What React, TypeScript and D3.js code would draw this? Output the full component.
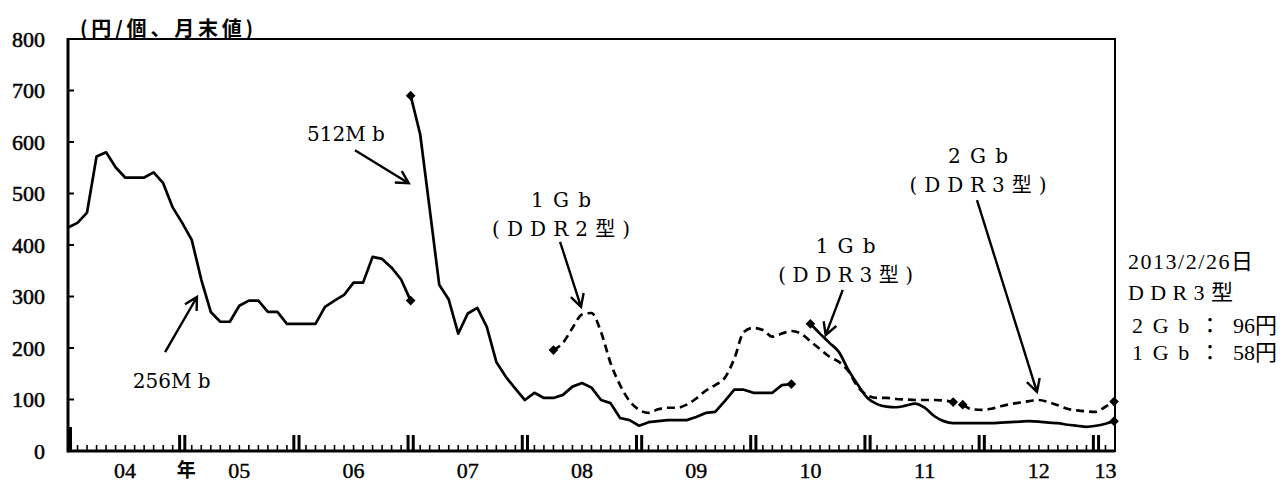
import React from 'react';
import * as d3 from 'd3';

// month index: 0 = end of Dec 2003, one step per month, 110 = end of Feb 2013
const lastMonth = 110;
const spotIdx = 109.9; // 2013/2/26

const yTicks = [0, 100, 200, 300, 400, 500, 600, 700, 800];
const yearLabels = ['04', '05', '06', '07', '08', '09', '10', '11', '12', '13'];
const yearUnit = '年';
const unitLabel = '(円/個、月末値)';

// DRAM spot prices (yen per chip, month-end)
const mb256Start = 0;
const mb256 = [434, 443, 463, 572, 580, 551, 531, 531, 531, 541, 520, 473, 443, 410, 333, 270, 251, 251,
  282, 292, 292, 270, 270, 247, 247, 247, 247, 280, 292, 303, 327, 327, 377, 373, 356, 333, 292];

const mb512Start = 36;
const mb512 = [690, 615, 470, 323, 294, 228, 267, 278, 241, 173, 144, 121, 99, 113, 103, 103, 109, 125,
  132, 123, 99, 93, 64, 60, 49, 56, 58, 60, 60, 60, 66, 74, 76, 97, 119, 119, 113, 113, 113, 128, 130];

const gb1Ddr2Start = 51;
const gb1Ddr2 = [196, 210, 239, 265, 268, 231, 171, 128, 97, 80, 74, 81, 84, 84, 90, 102, 117, 128, 142,
  179, 231, 239, 235, 222, 228, 233, 228, 213, 198, 183, 173, 155, 124, 108, 103, 103, 101, 100, 99, 99,
  99, 98, 95];

const gb1Ddr3Start = 78;
const gb1Ddr3 = [247, 228, 210, 192, 157, 128, 103, 91, 86, 85, 88, 92, 84, 68, 58, 54, 54, 54, 54, 54,
  55, 56, 57, 58, 57, 55, 54, 51, 49, 47, 49, 53];
const gb1Ddr3Spot = 58;

const gb2Ddr3Start = 94;
const gb2Ddr3 = [90, 81, 80, 82, 87, 91, 94, 97, 99, 95, 89, 82, 79, 77, 76, 86];
const gb2Ddr3Spot = 96;

const spotLines = ['2013/2/26日', 'DDR3型'];
const spotRows = [['2Gb：', '96円'], ['1Gb：', '58円']];

type Pt = [number, number];
type Series = { pts: Pt[]; dashed: boolean; smooth: boolean; markStart: boolean };

const build = (start: number, vals: number[], spot?: number): Pt[] => {
  const p: Pt[] = vals.map((v, k) => [start + k, v]);
  if (spot !== undefined) p.push([spotIdx, spot]);
  return p;
};

const series: Series[] = [
  { pts: build(mb256Start, mb256), dashed: false, smooth: false, markStart: false },
  { pts: build(mb512Start, mb512), dashed: false, smooth: false, markStart: true },
  { pts: build(gb1Ddr2Start, gb1Ddr2), dashed: true, smooth: true, markStart: true },
  { pts: build(gb1Ddr3Start, gb1Ddr3, gb1Ddr3Spot), dashed: false, smooth: true, markStart: true },
  { pts: build(gb2Ddr3Start, gb2Ddr3, gb2Ddr3Spot), dashed: true, smooth: true, markStart: true },
];

// callouts, anchored in data space: [month index, yen]
const callouts = [
  { lines: ['256M b'], fit: [0], at: [10.9, 136] as Pt, tail: [10.2, 192] as Pt, tip: [13.55, 299] as Pt },
  { lines: ['512M b'], fit: [0], at: [29.2, 616] as Pt, tail: [30.15, 584] as Pt, tip: [35.8, 520] as Pt },
  { lines: ['1Gb', '(DDR2型)'], fit: [60, 138], at: [51.8, 487] as Pt, tail: [51.7, 406] as Pt, tip: [53.9, 280] as Pt },
  { lines: ['1Gb', '(DDR3型)'], fit: [60, 135], at: [81.7, 398] as Pt, tail: [81.4, 313] as Pt, tip: [79.6, 225] as Pt },
  { lines: ['2Gb', '(DDR3型)'], fit: [60, 137], at: [95.6, 573] as Pt, tail: [95.5, 487] as Pt, tip: [101.8, 115] as Pt },
];

const W = 1283;
const H = 492;
const left = 68, right = 1115, top = 39, bottom = 451;

const serif = '"Liberation Serif", "Noto Sans CJK JP", serif';
const wide = '"DejaVu Serif", "Noto Sans CJK JP", serif';
const gothic = '"Noto Sans CJK JP", sans-serif';

export default function App() {
  const x = d3.scaleLinear().domain([0, lastMonth]).range([left, right]);
  const y = d3.scaleLinear().domain([0, 800]).range([bottom, top]);

  const lineLin = d3.line<Pt>().x(d => x(d[0])).y(d => y(d[1]));
  const lineSmooth = d3.line<Pt>().x(d => x(d[0])).y(d => y(d[1])).curve(d3.curveMonotoneX);
  const diamond = d3.symbol().type(d3.symbolDiamond2).size(60)();

  const months = d3.range(1, lastMonth).filter(m => m % 12 !== 0);
  const yearEnds = d3.range(12, lastMonth, 12);

  const arrow = (t: Pt, h: Pt) => {
    const x1 = x(t[0]), y1 = y(t[1]), x2 = x(h[0]), y2 = y(h[1]);
    const a = Math.atan2(y2 - y1, x2 - x1);
    const L = 14, s = 0.5;
    const b1 = [x2 - L * Math.cos(a - s), y2 - L * Math.sin(a - s)];
    const b2 = [x2 - L * Math.cos(a + s), y2 - L * Math.sin(a + s)];
    return `M${x1},${y1}L${x2},${y2}M${b1[0]},${b1[1]}L${x2},${y2}L${b2[0]},${b2[1]}`;
  };

  const yearPos = (k: number) => x((12 * k + Math.min(12 * k + 12, lastMonth)) / 2);

  return (
    <svg width={W} height={H} style={{ position: 'absolute', left: 0, top: 0, background: '#fff' }}>
      {/* frame */}
      <rect x={left} y={top} width={right - left} height={bottom - top} fill="none" stroke="#000" strokeWidth={2} />
      <line x1={left} x2={left} y1={top - 1} y2={bottom + 1.5} stroke="#000" strokeWidth={3} />
      <line x1={left} x2={right} y1={bottom} y2={bottom} stroke="#000" strokeWidth={3} />

      {/* y ticks */}
      {yTicks.map(t => (
        <g key={t}>
          {t > 0 && t < 800 && <line x1={left} x2={left + 6} y1={y(t)} y2={y(t)} stroke="#000" strokeWidth={2} />}
          <text x={45} y={y(t)} dy="0.35em" textAnchor="end" fontFamily={serif} fontSize={22}
            stroke="#000" strokeWidth={0.5}>{t}</text>
        </g>
      ))}

      {/* month ticks */}
      {months.map(m => (
        <line key={m} x1={x(m)} x2={x(m)} y1={bottom} y2={bottom - 6} stroke="#000" strokeWidth={1.6} />
      ))}
      {yearEnds.map(m => (
        <g key={m}>
          <line x1={x(m) - 2.6} x2={x(m) - 2.6} y1={bottom} y2={bottom - 16} stroke="#000" strokeWidth={3} />
          <line x1={x(m) + 2.6} x2={x(m) + 2.6} y1={bottom} y2={bottom - 16} stroke="#000" strokeWidth={3} />
        </g>
      ))}
      <rect x={left} y={bottom - 24} width={4} height={24} fill="#000" />

      {/* year labels */}
      {yearLabels.map((l, k) => (
        <text key={l} x={yearPos(k)} y={478} textAnchor="middle" fontFamily={serif} fontSize={22}
          stroke="#000" strokeWidth={0.4}>{l}</text>
      ))}
      <text x={x(12) + 4} y={477} textAnchor="middle" fontFamily={gothic} fontSize={19} fontWeight={700}>{yearUnit}</text>

      <text x={80} y={36} fontFamily={gothic} fontSize={20} fontWeight={700} textLength={173} lengthAdjust="spacing">{unitLabel}</text>

      {/* series */}
      {series.map((s, k) => (
        <g key={k}>
          <path d={(s.smooth ? lineSmooth : lineLin)(s.pts) ?? ''} fill="none" stroke="#000" strokeWidth={2.7}
            strokeDasharray={s.dashed ? '8,5' : undefined} strokeLinejoin="round" />
          {(s.markStart ? [s.pts[0], s.pts[s.pts.length - 1]] : [s.pts[s.pts.length - 1]]).map((p, j) => (
            <path key={j} d={diamond ?? ''} transform={`translate(${x(p[0])},${y(p[1])})`} fill="#000" />
          ))}
        </g>
      ))}

      {/* callouts */}
      {callouts.map((c, k) => (
        <g key={k}>
          <path d={arrow(c.tail, c.tip)} fill="none" stroke="#000" strokeWidth={2.4} />
          {c.lines.map((l, j) => (
            <text key={j} x={x(c.at[0])} y={y(c.at[1]) + j * 29} dy="0.36em" textAnchor="middle" fontFamily={wide}
              fontSize={20} textLength={c.fit[j] || undefined} lengthAdjust={c.fit[j] ? 'spacing' : undefined}>{l}</text>
          ))}
        </g>
      ))}

      {/* spot note */}
      <text x={1128} y={269} fontFamily={serif} fontSize={22} textLength={125} lengthAdjust="spacing">{spotLines[0]}</text>
      <text x={1128} y={300} fontFamily={serif} fontSize={22} textLength={105} lengthAdjust="spacing">{spotLines[1]}</text>
      {spotRows.map((r, k) => (
        <g key={k}>
          <text x={1132} y={333 + k * 27} fontFamily={serif} fontSize={22} textLength={89} lengthAdjust="spacing">{r[0]}</text>
          <text x={1233} y={333 + k * 27} fontFamily={serif} fontSize={22}>{r[1]}</text>
        </g>
      ))}
    </svg>
  );
}
